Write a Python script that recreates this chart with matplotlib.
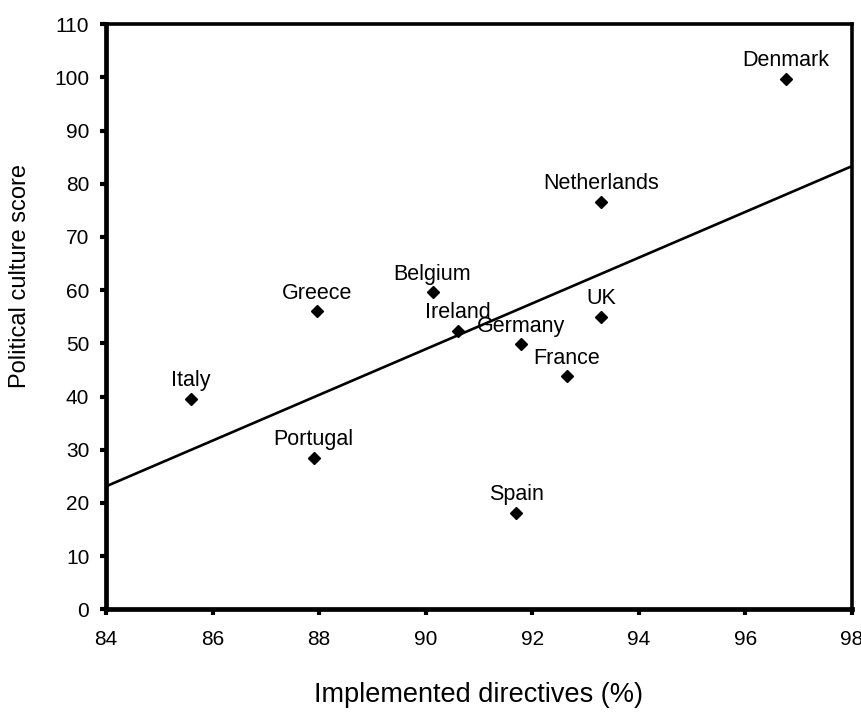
import numpy as np
import matplotlib
matplotlib.use('Agg')
import matplotlib.pyplot as plt

# Country data
countries = ['Denmark', 'Netherlands', 'UK', 'Belgium', 'Ireland', 'Germany',
             'France', 'Spain', 'Greece', 'Portugal', 'Italy']
directives = [96.76, 93.3, 93.3, 90.13, 90.6, 91.8, 92.65, 91.7, 87.96, 87.9, 85.6]
culture_score = [99.8, 76.6, 55.0, 59.6, 52.4, 49.8, 43.8, 18.1, 56.0, 28.5, 39.6]

# Trend line end points as drawn in the figure
trend_x = [84, 98]
trend_y = [23.1, 83.3]

x_ticks = list(range(84, 99, 2))
y_ticks = list(range(0, 111, 10))

plt.rcParams['font.family'] = ['Liberation Sans', 'DejaVu Sans']

fig = plt.figure(figsize=(8.62, 7.15), dpi=100)
ax = fig.add_axes([0.123, 0.148, 0.865, 0.818])

ax.plot(trend_x, trend_y, color='black', linewidth=1.9, solid_capstyle='butt')
ax.plot(directives, culture_score, linestyle='none', marker='D',
        markersize=6.5, color='black')

for name, xv, yv in zip(countries, directives, culture_score):
    ax.annotate(name, (xv, yv), xytext=(0, 9), textcoords='offset points',
                ha='center', va='baseline', fontsize=15.5)

ax.set_xlim(84, 98)
ax.set_ylim(0, 110)
ax.set_xticks(x_ticks)
ax.set_yticks(y_ticks)
ax.tick_params(axis='both', direction='out', length=4, width=3, labelsize=15)
ax.tick_params(axis='x', pad=11)
ax.tick_params(axis='y', pad=8)

for side in ['left', 'bottom']:
    ax.spines[side].set_linewidth(3.4)
for side in ['top', 'right']:
    ax.spines[side].set_linewidth(2.6)

ax.set_xlabel('Implemented directives (%)', fontsize=19.5)
ax.xaxis.set_label_coords(0.5, -0.125)
ax.set_ylabel('Political culture score', fontsize=17)
ax.yaxis.set_label_coords(-0.1, 0.57)

fig.savefig('out.png', dpi=100)
